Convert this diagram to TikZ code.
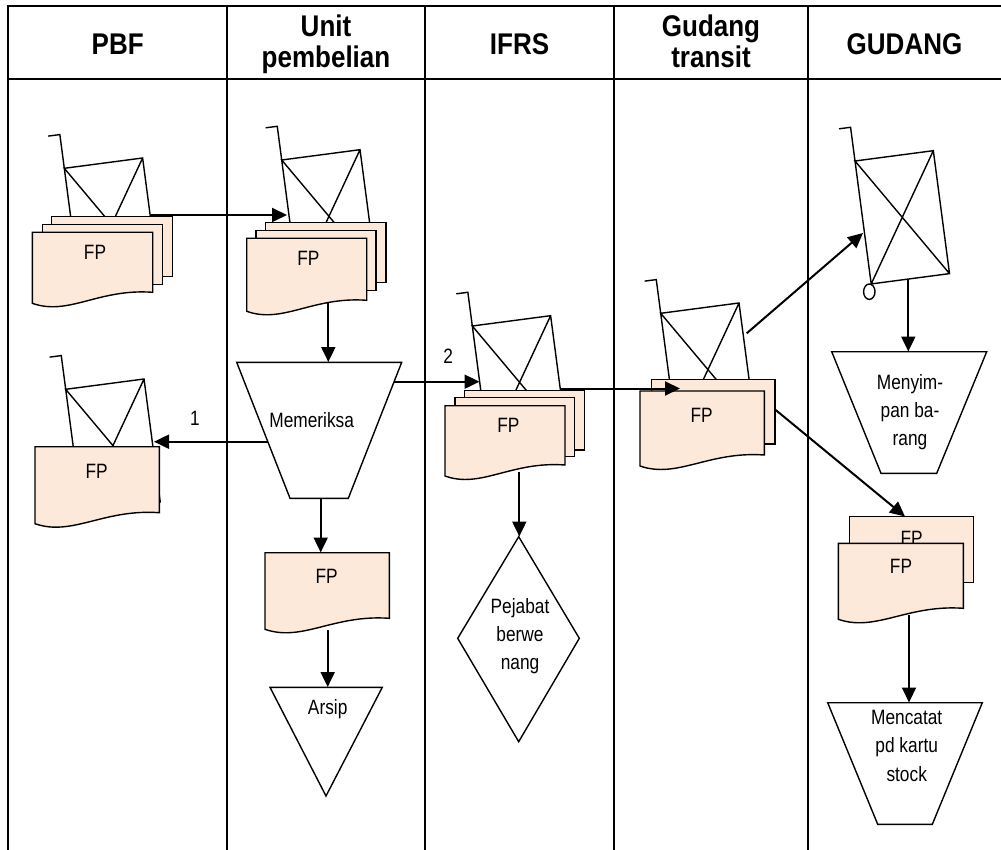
\documentclass[tikz,border=0pt]{standalone}
\usepackage{fontspec}
\setmainfont{Liberation Sans}
\usepackage{graphicx}
\usetikzlibrary{arrows.meta}
\definecolor{docfill}{RGB}{252,233,218}
\newcommand{\vs}[1]{\scalebox{1}[1.2]{#1}}
\newcommand{\hs}[1]{\scalebox{1}[1.15]{#1}}
\newcommand{\cartat}[2]{%
  \begin{scope}[shift={(#1,#2)}, rotate=7.5]
    \draw[outl] (-11.7,-34) -- (0,-34) -- (0,124) -- (79,124) -- (79,0) -- (0,0) -- (79,124) (79,0) -- (0,124);
  \end{scope}}
\newcommand{\docat}[4]{%
  \draw[docst] (#1,#2) -- (#1+#3,#2) -- (#1+#3,#2+#4)
    .. controls (#1+0.55*#3,#2+#4-4) and (#1+0.3*#3,#2+#4+24) .. (#1,#2+#4+11) -- cycle;}
\newcommand{\sheetat}[4]{\draw[docst] (#1,#2) rectangle (#1+#3,#2+#4);}
\begin{document}
\begin{tikzpicture}[x=1pt,y=-1pt,
  outl/.style={line width=1.4pt, line join=miter},
  docst/.style={outl, fill=docfill},
  flow/.style={line width=2pt, -{Triangle[length=15pt,width=14pt]}},
  gridline/.style={line width=2pt},
  lbl/.style={font=\fontsize{17.3}{23.5}\selectfont, inner sep=0pt},
  hdr/.style={font=\fontsize{26}{27.8}\selectfont\bfseries, inner sep=0pt},
]
\useasboundingbox (0,0) rectangle (1001,850);
% table
\draw[gridline] (1005,5.7) -- (8.3,5.7) -- (8.3,855);
\draw[gridline] (8.3,79.3) -- (1005,79.3);
\foreach \cx in {227,425,614,808.3} \draw[gridline] (\cx,5.7) -- (\cx,855);
\node[hdr] (hpbf) at (117.7,44.2) {\hs{PBF}};
\node[hdr] (hunit) at (326,45.6) {\hs{\begin{tabular}{@{}c@{}}Unit\\pembelian\end{tabular}}};
\node[hdr] (hifrs) at (519.5,44.2) {\hs{IFRS}};
\node[hdr] (htransit) at (711,45.6) {\hs{\begin{tabular}{@{}c@{}}Gudang\\transit\end{tabular}}};
\node[hdr] (hgudang) at (904.5,44.2) {\hs{GUDANG}};
% carts
\cartat{64.3}{168.3}
\cartat{281.7}{160}
\cartat{65.7}{389.3}
\cartat{472.3}{326}
\cartat{660.7}{313.3}
\cartat{855}{161}
\draw[outl] (869.3,291.7) ellipse [x radius=5.7, y radius=7.7];
% documents
\sheetat{51.7}{216.7}{120.6}{60}
\sheetat{42.3}{224.3}{120}{60}
\docat{32.3}{232.3}{120.4}{60}
\node[lbl] (fpA) at (95,252.7) {\vs{FP}};
\sheetat{265.7}{222.7}{120.3}{60}
\sheetat{256}{230.7}{120}{60}
\docat{246.7}{238.3}{120}{62}
\node[lbl] (fpB) at (308.3,258.3) {\vs{FP}};
\docat{35}{446.7}{124.3}{66}
\node[lbl] (fpC) at (96.7,471.7) {\vs{FP}};
\docat{265}{552.7}{124.3}{65.6}
\node[lbl] (fpD) at (326.7,576.7) {\vs{FP}};
\sheetat{464.3}{390.7}{120}{59.3}
\sheetat{455}{397.7}{119.3}{59}
\docat{445}{405.7}{120}{59.3}
\node[lbl] (fpE) at (508.3,425) {\vs{FP}};
\sheetat{651.7}{379.3}{123.3}{64.7}
\docat{640}{391}{124.3}{64}
\node[lbl] (fpF) at (701.7,415) {\vs{FP}};
\sheetat{849.3}{516.7}{124}{65.6}
\node[lbl] (fpG) at (911.7,538.3) {\vs{FP}};
\docat{838.3}{543.3}{125}{65}
\node[lbl] (fpH) at (901,566.7) {\vs{FP}};
% process shapes
\draw[outl] (236.7,362.3) -- (401.7,362.3) -- (348.3,498.3) -- (290,498.3) -- cycle;
\node[lbl] (memeriksa) at (311.7,420) {\vs{Memeriksa}};
\draw[outl] (831.7,351.7) -- (986.7,351.7) -- (936.7,473.3) -- (881,473.3) -- cycle;
\node[lbl] (menyimpan) at (910,411.7) {\vs{\begin{tabular}{@{}c@{}}Menyim-\\pan ba-\\rang\end{tabular}}};
\draw[outl] (827.7,702.7) -- (982.3,702.7) -- (932.3,824.3) -- (877.7,824.3) -- cycle;
\node[lbl] (mencatat) at (906.7,747.3) {\vs{\begin{tabular}{@{}c@{}}Mencatat\\pd kartu\\stock\end{tabular}}};
\draw[outl] (270,687.3) -- (382.3,687.3) -- (326,796) -- cycle;
\node[lbl] (arsip) at (327.7,709.3) {\vs{Arsip}};
\draw[outl] (518.7,536.7) -- (579.3,638.3) -- (518.7,741.7) -- (457.7,638.3) -- cycle;
\node[lbl] (pejabat) at (520,635.7) {\vs{\begin{tabular}{@{}c@{}}Pejabat\\berwe\\nang\end{tabular}}};
\node[lbl] (one) at (195,418.3) {\vs{1}};
\node[lbl] (two) at (448.3,356.7) {\vs{2}};
% connector end points
\coordinate (pbfcartR) at (150.7,215);
\coordinate (unitcartL) at (287,215);
\coordinate (unitdocB) at (328.3,303);
\coordinate (memT) at (328.3,362);
\coordinate (memL) at (267.8,441.7);
\coordinate (pbfcart2R) at (154,441.7);
\coordinate (memR) at (394.1,381.7);
\coordinate (ifrscartL) at (479.5,381.7);
\coordinate (memB) at (320.7,498.3);
\coordinate (fpDT) at (320.7,552.5);
\coordinate (fpDB) at (327.7,630);
\coordinate (arsipT) at (327.7,687);
\coordinate (ifrsdocB) at (519.3,472);
\coordinate (pejT) at (519.3,536.5);
\coordinate (ifrscartR) at (561,388.5);
\coordinate (transitdoc) at (680,388.5);
\coordinate (transitcartR) at (746.7,333.3);
\coordinate (gudcartL) at (863,233);
\coordinate (transitdocR) at (775.7,410);
\coordinate (guddocT) at (905,516.5);
\coordinate (gudcartB) at (908.3,279);
\coordinate (menyT) at (908.3,351.5);
\coordinate (guddocB) at (909,615);
\coordinate (mencT) at (909,702.5);
% connectors
\draw[flow] (pbfcartR) -- (unitcartL);
\draw[flow] (unitdocB) -- (memT);
\draw[flow] (memL) -- (pbfcart2R);
\draw[flow] (memR) -- (ifrscartL);
\draw[flow] (memB) -- (fpDT);
\draw[flow] (fpDB) -- (arsipT);
\draw[flow] (ifrsdocB) -- (pejT);
\draw[flow] (ifrscartR) -- (transitdoc);
\draw[flow] (transitcartR) -- (gudcartL);
\draw[flow] (transitdocR) -- (guddocT);
\draw[flow] (gudcartB) -- (menyT);
\draw[flow] (guddocB) -- (mencT);
\end{tikzpicture}
\end{document}
